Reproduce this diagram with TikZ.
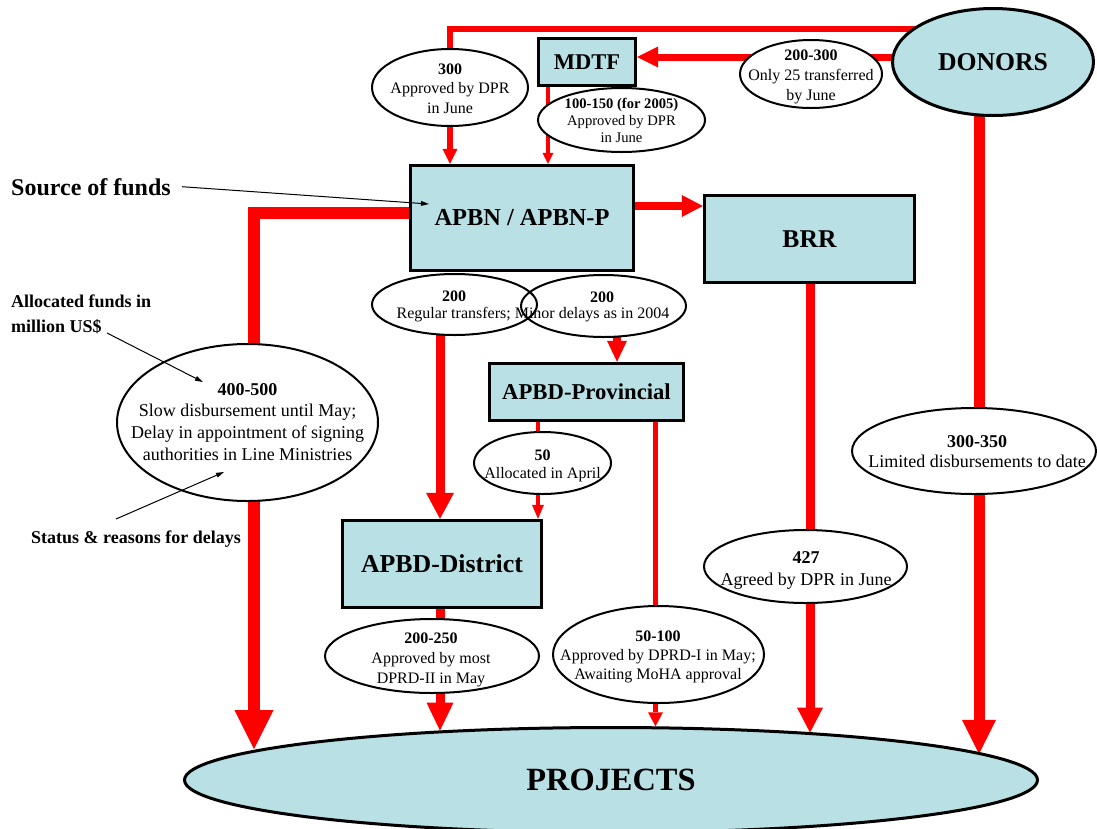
\documentclass[tikz,border=0pt]{standalone}
\usepackage{fontspec}
\setmainfont{Liberation Serif}
\usetikzlibrary{arrows.meta,shapes.geometric}
\definecolor{lb}{RGB}{185,224,228}
\newcommand\mylines[2][c]{\begin{tabular}[t]{@{}#1@{}}#2\end{tabular}}
\pgfdeclarelayer{lines}
\pgfdeclarelayer{fills}
\pgfsetlayers{lines,fills,main}
\begin{document}
\begin{tikzpicture}[x=1pt,y=-1pt,
  box/.style={rectangle, draw=black, line width=3.4pt, fill=lb, inner sep=0pt},
  bigell/.style={ellipse, draw=black, line width=3pt, fill=lb, inner sep=0pt},
  lab/.style={ellipse, draw=black, line width=2pt, fill=white, inner sep=0pt},
  bf/.style={font=\bfseries\fontsize{#1}{#1}\selectfont},
  txt/.style 2 args={inner sep=0pt, anchor=base, font=\fontsize{#1}{#2}\selectfont},
  btxt/.style 2 args={inner sep=0pt, anchor=base west, font=\bfseries\fontsize{#1}{#2}\selectfont},
  rl/.style={draw=red, line join=miter, line cap=butt},
  arr/.style 2 args={-{Triangle[length=#1pt,width=#2pt,line width=0pt]}},
  ann/.style={draw=black, line width=1pt, -{Triangle[length=8pt,width=5pt,line width=0pt]}}]
\useasboundingbox (0,0) rectangle (1097,828);

% ---- main nodes
\node[bigell, minimum width=201pt, minimum height=107pt, bf=25.7] (donors) at (993,62) {DONORS};
\node[box, minimum width=97pt, minimum height=47pt, bf=22.5] (mdtf) at (587,62) {MDTF};
\node[box, minimum width=223pt, minimum height=105pt, bf=24.4] (apbn) at (522,218) {APBN / APBN-P};
\node[box, minimum width=210pt, minimum height=87pt, bf=25.6] (brr) at (809.5,239) {BRR};
\node[box, minimum width=194pt, minimum height=57pt, bf=22.7] (prov) at (586.5,392) {APBD-Provincial};
\node[box, minimum width=199pt, minimum height=87pt, bf=25.8] (dist) at (442,564) {APBD-District};
\node[bigell, minimum width=853pt, minimum height=105pt, bf=32.4] (projects) at (611,780) {PROJECTS};

% ---- label ellipses
\node[lab, minimum width=156pt, minimum height=77pt] (e300) at (450,87.5) {};
\node[lab, minimum width=167pt, minimum height=64pt] (e100) at (621.5,120) {};
\node[lab, minimum width=142pt, minimum height=68pt] (e200300) at (811,74) {};
\node[lab, fill=none, minimum width=165pt, minimum height=61pt] (e200a) at (454.5,304.5) {};
\node[lab, fill=none, minimum width=165pt, minimum height=62pt] (e200b) at (603.5,306) {};
\node[lab, minimum width=261pt, minimum height=157pt] (e400) at (247.5,422.5) {};
\node[lab, minimum width=137pt, minimum height=62pt] (e50) at (542.5,463) {};
\node[lab, minimum width=244pt, minimum height=86pt] (e300350) at (974,451) {};
\node[lab, minimum width=203pt, minimum height=73pt] (e427) at (805.5,566.5) {};
\node[lab, minimum width=214pt, minimum height=74pt] (e200250) at (432,656) {};
\node[lab, minimum width=211pt, minimum height=97pt] (e50100) at (658.5,654.5) {};

\begin{pgfonlayer}{fills}
\fill[white] (e200a.center) ellipse [x radius=82.5pt, y radius=30.5pt];
\fill[white] (e200b.center) ellipse [x radius=82.5pt, y radius=31pt];
\end{pgfonlayer}

% ---- label texts
\node[txt={16}{19.5}] (t300) at (450,74) {\mylines{\textbf{300}\\Approved by DPR\\in June}};
\node[txt={14.6}{17}] (t100) at (621.5,108) {\mylines{\textbf{100-150 (for 2005)}\\Approved by DPR\\in June}};
\node[txt={16}{20.2}] (t200300) at (811,60) {\mylines{\textbf{200-300}\\Only 25 transferred\\by June}};
\node[txt={16}{19}] (t200a) at (454,301) {\textbf{200}};
\node[txt={16}{19}] (t200b) at (602,302) {\textbf{200}};
\node[txt={16}{19}] (t200c) at (533,318) {Regular transfers; Minor delays as in 2004};
\node[txt={18}{21.7}] (t400) at (247.5,395) {\mylines{\textbf{400-500}\\Slow disbursement until May;\\Delay in appointment of signing\\authorities in Line Ministries}};
\node[txt={16}{18.5}] (t50) at (542.5,460) {\mylines{\textbf{50}\\Allocated in April}};
\node[txt={18}{20.5}] (t300350) at (977,447) {\mylines{\textbf{300-350}\\Limited disbursements to date}};
\node[txt={18}{22}] (t427) at (806,563) {\mylines{\textbf{427}\\Agreed by DPR in June}};
\node[txt={16}{20}] (t200250) at (431,643) {\mylines{\textbf{200-250}\\Approved by most\\DPRD-II in May}};
\node[txt={16}{19}] (t50100) at (658,641) {\mylines{\textbf{50-100}\\Approved by DPRD-I in May;\\Awaiting MoHA approval}};

% ---- annotations
\node[btxt={24}{28}] (src) at (11,195) {Source of funds};
\node[btxt={18}{25}] (alloc) at (11,307) {\mylines[l]{Allocated funds in\\million US\$}};
\node[btxt={18}{22}] (status) at (31,543) {Status \& reasons for delays};

% ---- flows
\begin{pgfonlayer}{lines}
\coordinate (ctop) at (450,28.5);
\draw[rl, line width=6pt, arr={15}{15}] (donors.center |- ctop) -- (ctop) -- (ctop |- apbn.north);
\draw[rl, line width=7pt, arr={21}{21}] ([yshift=5pt]donors.center) -- ([yshift=5pt]mdtf.east);
\coordinate (cM) at (548,90);
\draw[rl, line width=4pt, arr={11}{11}] (cM |- mdtf.south) -- (cM |- apbn.north);
\coordinate (cBR) at (670,206);
\draw[rl, line width=8pt, arr={21}{22}] (apbn.east |- cBR) -- (brr.west |- cBR);
\coordinate (cL) at (254,213);
\draw[rl, line width=12pt, arr={39}{39}] (apbn.west |- cL) -- (cL) -- (cL |- projects.175);
\coordinate (cD) at (440,400);
\draw[rl, line width=9pt, arr={26}{28}] (cD |- e200a.center) -- (cD |- dist.north);
\coordinate (cP) at (617,300);
\draw[rl, line width=8pt, arr={21}{20}] (cP |- e200b.center) -- (cP |- prov.north);
\coordinate (cS) at (538,450);
\draw[rl, line width=4.5pt, arr={14}{12}] (cS |- prov.south) -- (cS |- dist.north);
\coordinate (cR) at (655.5,500);
\draw[rl, line width=5pt, arr={14}{15}] (cR |- prov.south) -- (cR |- projects.50);
\draw[rl, line width=9pt, arr={28}{27}] (cD |- dist.south) -- (cD |- projects.164);
\coordinate (cB) at (810,400);
\draw[rl, line width=9pt, arr={25}{26}] (cB |- brr.south) -- (cB |- projects.13);
\coordinate (cO) at (979,300);
\draw[rl, line width=11pt, arr={34}{34}] (cO |- donors.center) -- (cO |- projects.4);
\end{pgfonlayer}

% ---- annotation arrows
\coordinate (a1) at (429,204);
\draw[ann] ([xshift=11pt]src.east) -- (a1);
\coordinate (a2s) at (107,333);
\coordinate (a2) at (203,382);
\draw[ann] (a2s) -- (a2);
\coordinate (a3s) at (116,519);
\coordinate (a3) at (224,472);
\draw[ann] (a3s) -- (a3);
\end{tikzpicture}
\end{document}
